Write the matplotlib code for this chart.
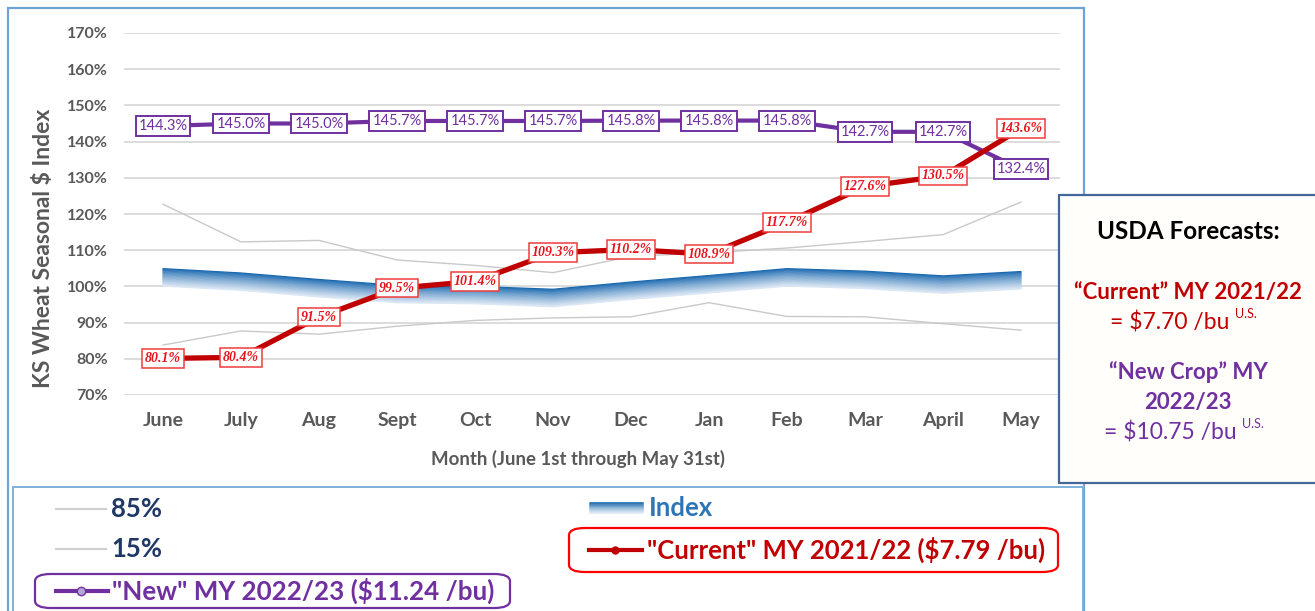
import matplotlib
matplotlib.use("Agg")
import matplotlib.pyplot as plt
import numpy as np
from matplotlib.patches import Rectangle, FancyBboxPatch
from matplotlib.lines import Line2D
from matplotlib.text import Annotation
from matplotlib.transforms import offset_copy
from matplotlib.colors import to_rgb

MONTHS = ["June", "July", "Aug", "Sept", "Oct", "Nov", "Dec", "Jan", "Feb", "Mar", "April", "May"]
INDEX = [102.5, 101.3, 99.5, 97.9, 97.6, 96.8, 98.8, 100.6, 102.5, 101.8, 100.5, 101.7]
P85 = [122.7, 112.3, 112.7, 107.3, 105.8, 103.8, 108.3, 109.3, 110.6, 112.4, 114.3, 123.3]
P15 = [83.8, 87.7, 86.8, 89.0, 90.6, 91.3, 91.6, 95.5, 91.7, 91.6, 89.7, 87.9]
CURRENT = [80.1, 80.4, 91.5, 99.5, 101.4, 109.3, 110.2, 108.9, 117.7, 127.6, 130.5, 143.6]
NEW = [144.3, 145.0, 145.0, 145.7, 145.7, 145.7, 145.8, 145.8, 145.8, 142.7, 142.7, 132.4]
Y_TICKS = list(range(70, 171, 10))

W, H = 1315, 611
RED, PURPLE, BLUE, NAVY, GRAY = "#c00000", "#7030a0", "#2e75b6", "#1f3864", "#595959"
SANS = ["Lato", "DejaVu Sans"]
NARROW = ["Liberation Sans Narrow", "Lato", "DejaVu Sans"]
SERIF = ["Liberation Serif", "DejaVu Serif"]
plt.rcParams["font.family"] = SANS


def fx(x):
    return x / W


def fy(y):
    return 1 - y / H


def blend(c1, c2, t):
    a, b = np.array(to_rgb(c1)), np.array(to_rgb(c2))
    return tuple(a + (b - a) * t)


def gradient_line(ax, x, y, width_pt, transform_base, fig, n=24, **kw):
    # stack thin offset strips dark (top) -> pale (bottom) to mimic Excel's gradient line
    step = width_pt / n
    for k in range(n):
        dy = width_pt / 2 - step * (k + 0.5)
        t = (k / (n - 1)) ** 0.8
        tr = offset_copy(transform_base, fig=fig, x=0, y=dy, units="points")
        ax.plot(x, y, color=blend("#1565ad", "#dbe7f4", t), lw=step * 1.8,
                solid_capstyle="round", solid_joinstyle="round", transform=tr, **kw)


fig = plt.figure(figsize=(W / 100, H / 100), dpi=100, facecolor="white")

# frames
fig.add_artist(Rectangle((fx(8), fy(640)), fx(1084 - 8), (640 - 8) / H, transform=fig.transFigure,
                         fill=False, ec="#6fa3d6", lw=1.6, zorder=0))
fig.add_artist(Rectangle((fx(13), fy(640)), fx(1083 - 13), (640 - 487) / H, transform=fig.transFigure,
                         fill=False, ec="#7fb0dc", lw=1.4, zorder=0))

ax = fig.add_axes([fx(124), fy(395), fx(1060 - 124), (395 - 33) / H])
x = np.arange(len(MONTHS))

ax.plot(x, P85, color="#c9c9c9", lw=1.0, zorder=2)
ax.plot(x, P15, color="#c9c9c9", lw=1.0, zorder=2)
gradient_line(ax, x, INDEX, 13, ax.transData, fig, zorder=3)
ax.plot(x, NEW, color=PURPLE, lw=3.0, marker="o", ms=4, zorder=4)
ax.plot(x, CURRENT, color=RED, lw=3.8, marker="o", ms=4, zorder=5)

for i, v in enumerate(NEW):
    ax.text(i, v, f"{v:.1f}%", ha="center", va="center", fontsize=10.5, family=NARROW,
            color=PURPLE, zorder=6,
            bbox=dict(boxstyle="square,pad=0.2", fc="white", ec=PURPLE, lw=1.4))
for i, v in enumerate(CURRENT):
    ax.text(i, v, f"{v:.1f}%", ha="center", va="center", fontsize=10, family=SERIF,
            color="#e8141c", style="italic", weight="bold", zorder=7,
            bbox=dict(boxstyle="square,pad=0.2", fc="white", ec="#f03c3c", lw=1.1))

ax.set_xlim(-0.5, len(MONTHS) - 0.5)
ax.set_ylim(70, 170)
ax.set_yticks(Y_TICKS)
ax.set_yticklabels([f"{t}%" for t in Y_TICKS])
ax.set_xticks(x)
ax.set_xticklabels(MONTHS)
ax.grid(axis="y", color="#d9d9d9", lw=1.3, zorder=0)
ax.set_axisbelow(True)
for s in ax.spines.values():
    s.set_visible(False)
ax.tick_params(axis="both", length=0, colors=GRAY)
ax.tick_params(axis="y", pad=11.5, labelsize=11.5)
ax.tick_params(axis="x", pad=12, labelsize=14)
for lbl in ax.get_xticklabels() + ax.get_yticklabels():
    lbl.set_fontweight("bold")

ax.set_xlabel("Month (June 1st through May 31st)", fontsize=13.4, weight="bold", color=GRAY)
ax.xaxis.set_label_coords(0.485, -0.153)
ax.set_ylabel("KS Wheat Seasonal $ Index", fontsize=16.5, weight="bold", color=GRAY)
ax.yaxis.set_label_coords(-0.075, 0.405)

# legend (drawn by hand to follow the original two-column layout)
def swatch(x0, x1, y, **kw):
    fig.add_artist(Line2D([fx(x0), fx(x1)], [fy(y), fy(y)], transform=fig.transFigure, **kw))


LEG_FS = 18.5
swatch(56, 106, 509, color="#d0d0d0", lw=1.5)
fig.text(fx(111), fy(509), "85%", fontsize=LEG_FS, weight="bold", color=NAVY, va="center")
swatch(56, 106, 549, color="#d0d0d0", lw=1.5)
fig.text(fx(111), fy(549), "15%", fontsize=LEG_FS, weight="bold", color=NAVY, va="center")

leg_ax = fig.add_axes([0, 0, 1, 1], zorder=-1)
leg_ax.set_xlim(0, W)
leg_ax.set_ylim(H, 0)
leg_ax.axis("off")
gradient_line(leg_ax, [590, 643], [508, 508], 8, leg_ax.transData, fig, n=12)
fig.text(fx(649), fy(508), "Index", fontsize=LEG_FS, weight="bold", color=BLUE, va="center")

fig.add_artist(FancyBboxPatch((fx(569), fy(572)), fx(1058 - 569), (572 - 528) / H,
                              boxstyle="round,pad=0,rounding_size=0.012", transform=fig.transFigure,
                              fill=False, ec="#ff0000", lw=1.6))
swatch(589, 642, 550, color=RED, lw=3)
fig.add_artist(Line2D([fx(615)], [fy(550)], transform=fig.transFigure, color=RED, marker="o", ms=5))
fig.text(fx(647), fy(550), "\"Current\" MY 2021/22 ($7.79 /bu)", fontsize=LEG_FS, weight="bold",
         color=RED, va="center")

fig.add_artist(FancyBboxPatch((fx(35), fy(608)), fx(510 - 35), (608 - 574) / H,
                              boxstyle="round,pad=0,rounding_size=0.012", transform=fig.transFigure,
                              fill=False, ec=PURPLE, lw=1.6))
swatch(56, 108, 591, color=PURPLE, lw=3)
fig.add_artist(Line2D([fx(81)], [fy(591)], transform=fig.transFigure, color=PURPLE, marker="o",
                      ms=6, mfc="#b4a7d6", mec=PURPLE))
fig.text(fx(112), fy(591), "\"New\" MY 2022/23 ($11.24 /bu)", fontsize=18.7, weight="bold",
         color=PURPLE, va="center")

# USDA forecast box
fig.add_artist(Rectangle((fx(1059), fy(483)), fx(1330 - 1059), (483 - 195) / H, transform=fig.transFigure,
                         fc="#fffefa", ec="#44679b", lw=1.6, zorder=5))
cx = fx(1188)
fig.text(cx, fy(232), "USDA Forecasts:", fontsize=17.5, weight="bold", color="black",
         ha="center", va="center", zorder=6)
fig.text(cx, fy(293), "\u201cCurrent\u201d MY 2021/22", fontsize=16, weight="bold", color=RED,
         ha="center", va="center", zorder=6)
fig.text(cx, fy(372), "\u201cNew Crop\u201d MY", fontsize=16, weight="bold", color=PURPLE,
         ha="center", va="center", zorder=6)
fig.text(cx, fy(402), "2022/23", fontsize=16, weight="bold", color=PURPLE,
         ha="center", va="center", zorder=6)

for y, txt, col in [(322, "= $7.70 /bu", RED), (432, "= $10.75 /bu", PURPLE)]:
    main = fig.text(fx(1170), fy(y), txt, fontsize=16.5, color=col, ha="center", va="center", zorder=6)
    sup = Annotation("U.S.", xy=(1, 0.85), xycoords=main, xytext=(4, 0), textcoords="offset points",
                     fontsize=9, color=col, ha="left", va="center", zorder=6)
    fig.add_artist(sup)

fig.savefig("out.png", dpi=100, facecolor="white")
